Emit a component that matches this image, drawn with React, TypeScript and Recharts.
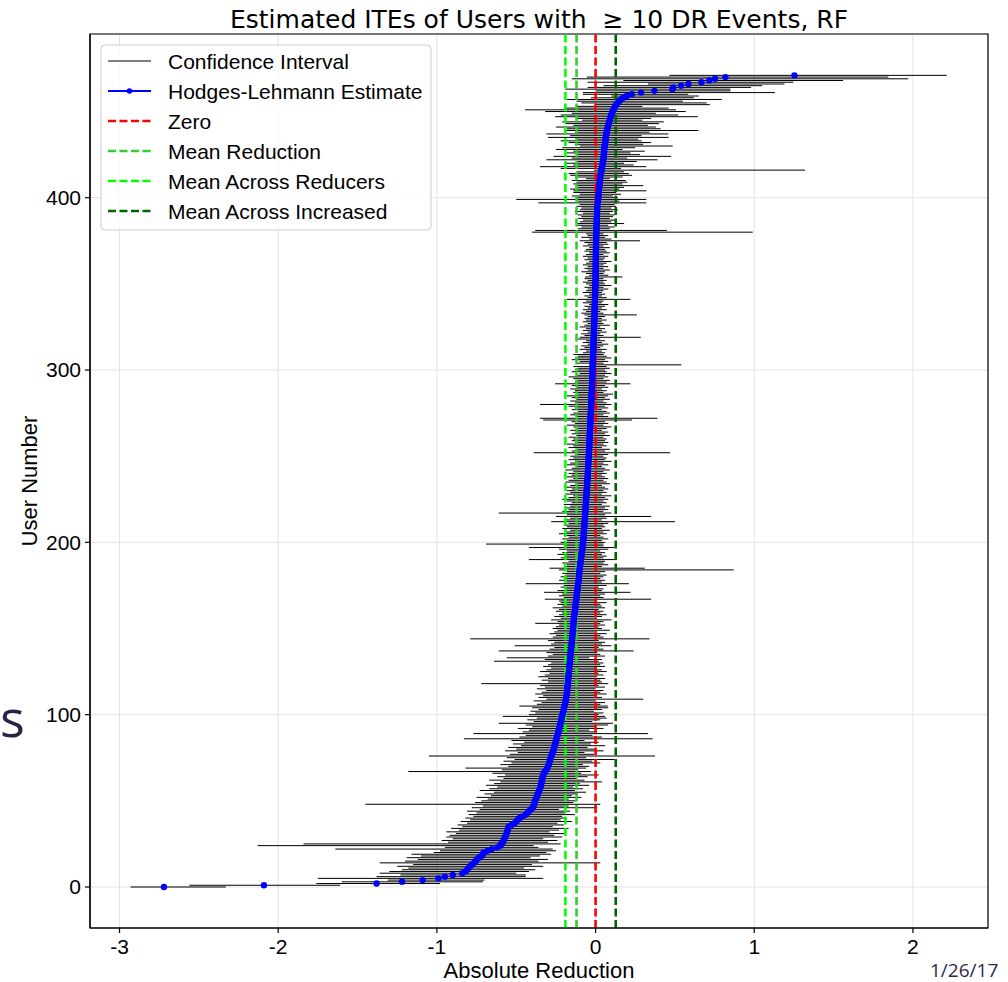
import React from 'react';
import {
  ScatterChart,
  Scatter,
  ErrorBar,
  XAxis,
  YAxis,
  CartesianGrid,
  ReferenceLine,
  ReferenceArea,
} from 'recharts';

// Hodges-Lehmann estimate per user (sorted), users 0..471
const hlEstimate = [
  -2.72, -2.09, -1.38, -1.22, -1.09, -0.99, -0.95, -0.9, -0.84, -0.82,
  -0.81, -0.8, -0.79, -0.78, -0.765, -0.755, -0.75, -0.735, -0.72, -0.71,
  -0.705, -0.68, -0.655, -0.62, -0.6, -0.595, -0.585, -0.58, -0.575, -0.57,
  -0.565, -0.56, -0.557, -0.554, -0.551, -0.548, -0.53, -0.51, -0.5, -0.49,
  -0.478, -0.46, -0.44, -0.43, -0.42, -0.41, -0.395, -0.39, -0.388, -0.385,
  -0.381, -0.377, -0.372, -0.368, -0.364, -0.36, -0.355, -0.35, -0.347, -0.345,
  -0.342, -0.34, -0.338, -0.335, -0.333, -0.33, -0.327, -0.318, -0.31, -0.305,
  -0.3, -0.295, -0.292, -0.289, -0.286, -0.283, -0.279, -0.275, -0.271, -0.267,
  -0.264, -0.261, -0.258, -0.255, -0.252, -0.249, -0.246, -0.243, -0.24, -0.237,
  -0.234, -0.232, -0.229, -0.226, -0.224, -0.221, -0.218, -0.216, -0.213, -0.211,
  -0.208, -0.206, -0.203, -0.201, -0.198, -0.196, -0.193, -0.191, -0.189, -0.187,
  -0.185, -0.183, -0.181, -0.18, -0.179, -0.178, -0.177, -0.176, -0.175, -0.174,
  -0.173, -0.172, -0.171, -0.17, -0.169, -0.168, -0.167, -0.166, -0.165, -0.164,
  -0.163, -0.162, -0.161, -0.16, -0.159, -0.158, -0.157, -0.156, -0.155, -0.154,
  -0.153, -0.151, -0.15, -0.149, -0.148, -0.147, -0.146, -0.145, -0.144, -0.143,
  -0.142, -0.141, -0.14, -0.139, -0.138, -0.137, -0.136, -0.135, -0.134, -0.132,
  -0.131, -0.129, -0.128, -0.127, -0.126, -0.124, -0.123, -0.122, -0.12, -0.119,
  -0.118, -0.117, -0.115, -0.114, -0.113, -0.111, -0.11, -0.109, -0.107, -0.106,
  -0.105, -0.104, -0.103, -0.102, -0.101, -0.099, -0.098, -0.097, -0.095, -0.094,
  -0.092, -0.091, -0.09, -0.088, -0.087, -0.085, -0.084, -0.082, -0.081, -0.08,
  -0.079, -0.078, -0.077, -0.076, -0.075, -0.075, -0.074, -0.073, -0.072, -0.071,
  -0.07, -0.07, -0.069, -0.068, -0.067, -0.067, -0.066, -0.065, -0.064, -0.064,
  -0.063, -0.062, -0.061, -0.061, -0.06, -0.059, -0.058, -0.058, -0.057, -0.056,
  -0.056, -0.055, -0.054, -0.053, -0.053, -0.052, -0.052, -0.051, -0.05, -0.05,
  -0.049, -0.048, -0.048, -0.047, -0.047, -0.046, -0.045, -0.045, -0.044, -0.044,
  -0.043, -0.042, -0.042, -0.041, -0.041, -0.04, -0.04, -0.039, -0.039, -0.038,
  -0.038, -0.037, -0.037, -0.036, -0.036, -0.035, -0.035, -0.034, -0.034, -0.033,
  -0.033, -0.032, -0.032, -0.031, -0.031, -0.03, -0.03, -0.029, -0.029, -0.028,
  -0.028, -0.027, -0.027, -0.026, -0.026, -0.025, -0.025, -0.024, -0.024, -0.023,
  -0.023, -0.022, -0.022, -0.022, -0.021, -0.021, -0.02, -0.02, -0.02, -0.019,
  -0.019, -0.018, -0.018, -0.018, -0.017, -0.017, -0.017, -0.016, -0.016, -0.015,
  -0.015, -0.015, -0.014, -0.014, -0.014, -0.013, -0.013, -0.013, -0.012, -0.012,
  -0.011, -0.011, -0.011, -0.01, -0.01, -0.01, -0.009, -0.009, -0.008, -0.008,
  -0.008, -0.007, -0.007, -0.007, -0.006, -0.006, -0.006, -0.005, -0.005, -0.005,
  -0.004, -0.004, -0.004, -0.003, -0.003, -0.003, -0.002, -0.002, -0.002, -0.001,
  -0.001, -0.001, 0, 0, 0, 0, 0, 0, 0, 0,
  0.001, 0.001, 0.001, 0.001, 0.001, 0.002, 0.002, 0.002, 0.002, 0.002,
  0.003, 0.003, 0.003, 0.003, 0.003, 0.004, 0.004, 0.004, 0.005, 0.005,
  0.005, 0.006, 0.006, 0.006, 0.007, 0.007, 0.007, 0.008, 0.008, 0.009,
  0.009, 0.009, 0.01, 0.01, 0.011, 0.012, 0.013, 0.014, 0.015, 0.016,
  0.017, 0.018, 0.019, 0.02, 0.021, 0.022, 0.023, 0.024, 0.025, 0.026,
  0.027, 0.028, 0.029, 0.031, 0.033, 0.035, 0.037, 0.039, 0.041, 0.043,
  0.045, 0.047, 0.049, 0.05, 0.051, 0.052, 0.053, 0.054, 0.055, 0.056,
  0.057, 0.059, 0.061, 0.062, 0.063, 0.065, 0.066, 0.068, 0.07, 0.072,
  0.074, 0.077, 0.08, 0.083, 0.086, 0.089, 0.092, 0.095, 0.099, 0.103,
  0.107, 0.112, 0.117, 0.123, 0.13, 0.138, 0.148, 0.16, 0.175, 0.197,
  0.228, 0.287, 0.371, 0.484, 0.49, 0.539, 0.585, 0.667, 0.717, 0.753,
  0.818, 1.253,
];

// Lower end of each user's confidence interval
const ciLow = [
  -2.93, -2.56, -1.76, -1.6, -1.31, -1.75, -1.38, -1.23, -1.36, -1.3,
  -1.22, -1.18, -1.25, -1.15, -1.36, -1.2, -1.12, -1.19, -1.1, -1.16,
  -1.02, -0.98, -1.64, -0.95, -2.13, -1.84, -0.93, -0.97, -0.9, -0.94,
  -0.92, -0.88, -0.94, -0.86, -0.91, -0.84, -0.87, -0.81, -0.85, -0.79,
  -0.82, -0.77, -0.8, -0.75, -0.81, -0.73, -0.78, -0.71, -1.45, -0.76,
  -0.72, -0.68, -0.75, -0.66, -0.7, -0.64, -0.73, -0.67, -0.62, -0.69,
  -0.64, -0.6, -0.67, -0.58, -0.62, -0.57, -0.65, -1.18, -0.59, -0.82,
  -0.55, -0.6, -0.53, -0.58, -0.51, -0.56, -1.05, -0.54, -0.49, -0.57,
  -0.5, -0.55, -0.47, -0.52, -0.45, -0.53, -0.83, -0.48, -0.44, -0.77,
  -0.46, -0.42, -0.49, -0.4, -0.44, -0.61, -0.39, -0.43, -0.37, -0.585,
  -0.42, -0.38, -0.41, -0.36, -0.4, -0.48, -0.37, -0.34, -0.39, -0.31,
  -0.36, -0.33, -0.38, -0.34, -0.31, -0.37, -0.32, -0.35, -0.72, -0.3,
  -0.34, -0.3, -0.36, -0.32, -0.29, -0.35, -0.31, -0.28, -0.33, -0.3,
  -0.28, -0.64, -0.32, -0.56, -0.3, -0.27, -0.31, -0.61, -0.29, -0.26,
  -0.51, -0.28, -0.26, -0.3, -0.79, -0.27, -0.25, -0.29, -0.26, -0.24,
  -0.27, -0.25, -0.23, -0.38, -0.24, -0.28, -0.22, -0.26, -0.23, -0.21,
  -0.25, -0.23, -0.27, -0.21, -0.24, -0.22, -0.23, -0.32, -0.2, -0.23,
  -0.21, -0.325, -0.24, -0.19, -0.22, -0.2, -0.44, -0.18, -0.23, -0.2,
  -0.22, -0.19, -0.21, -0.18, -0.23, -0.29, -0.2, -0.18, -0.21, -0.17,
  -0.42, -0.22, -0.19, -0.24, -0.21, -0.18, -0.23, -0.42, -0.2, -0.69,
  -0.22, -0.18, -0.21, -0.17, -0.2, -0.23, -0.19, -0.16, -0.21, -0.18,
  -0.2, -0.17, -0.28, -0.19, -0.16, -0.25, -0.18, -0.61, -0.21, -0.17,
  -0.19, -0.16, -0.2, -0.15, -0.18, -0.21, -0.17, -0.14, -0.19, -0.16,
  -0.18, -0.15, -0.2, -0.16, -0.13, -0.19, -0.17, -0.14, -0.18, -0.15,
  -0.17, -0.14, -0.19, -0.15, -0.12, -0.18, -0.16, -0.13, -0.17, -0.14,
  -0.16, -0.13, -0.39, -0.15, -0.12, -0.17, -0.14, -0.18, -0.13, -0.15,
  -0.14, -0.17, -0.12, -0.15, -0.13, -0.16, -0.11, -0.14, -0.18, -0.13,
  -0.15, -0.33, -0.35, -0.12, -0.16, -0.14, -0.11, -0.15, -0.13, -0.17,
  -0.35, -0.13, -0.16, -0.12, -0.15, -0.18, -0.11, -0.14, -0.13, -0.16,
  -0.12, -0.15, -0.255, -0.13, -0.11, -0.14, -0.17, -0.12, -0.1, -0.15,
  -0.13, -0.11, -0.14, -0.04, -0.12, -0.1, -0.15, -0.13, -0.11, -0.14,
  -0.08, -0.06, -0.1, -0.07, -0.09, -0.05, -0.08, -0.06, -0.11, -0.1,
  -0.07, -0.09, -0.05, -0.08, -0.06, -0.1, -0.07, -0.05, -0.08, -0.06,
  -0.07, -0.05, -0.07, -0.09, -0.06, -0.08, -0.05, -0.07, -0.04, -0.08,
  -0.06, -0.18, -0.05, -0.07, -0.04, -0.08, -0.06, -0.05, -0.07, -0.04,
  -0.06, -0.08, -0.05, -0.07, -0.066, -0.04, -0.06, -0.09, -0.05, -0.07,
  -0.05, -0.08, -0.06, -0.04, -0.07, -0.05, -0.08, -0.06, -0.04, -0.07,
  -0.06, -0.04, -0.08, -0.05, -0.07, -0.1, -0.04, -0.09, -0.05, -0.06,
  -0.4, -0.38, -0.11, -0.09, -0.12, -0.12, -0.1, -0.08, -0.11, -0.09,
  -0.11, -0.08, -0.13, -0.1, -0.09, -0.12, -0.1, -0.36, -0.11, -0.5,
  -0.12, -0.15, -0.1, -0.14, -0.14, -0.16, -0.11, -0.12, -0.14, -0.12,
  -0.15, -0.06, -0.13, -0.16, -0.17, -0.12, -0.01, -0.22, -0.35, -0.14,
  -0.19, -0.12, -0.31, -0.15, -0.265, -0.11, -0.18, -0.14, -0.25, -0.21,
  -0.1, -0.13, -0.17, -0.22, -0.12, -0.3, -0.16, -0.31, -0.13, -0.2,
  -0.18, -0.25, -0.14, -0.19, -0.21, -0.085, -0.12, -0.255, -0.22, -0.15,
  -0.318, -0.444, -0.2, -0.12, 0.0, -0.09, -0.12, -0.18, -0.03, 0.1,
  -0.08, -0.08, 0.0, -0.19, -0.05, 0.05, 0.33, -0.05, 0.175, -0.15,
  -0.055, 0.465,
];

// Upper end of each user's confidence interval
const ciHigh = [
  -2.33, -1.61, -0.98, -0.71, -0.7, -0.33, -0.44, -0.44, -0.5, -0.42,
  -0.38, -0.45, -0.33, -0.4, 0.03, -0.36, -0.3, -0.41, -0.35, -0.28,
  -0.31, -0.25, -0.27, -0.36, -0.39, -0.22, -0.3, -0.24, -0.33, -0.21,
  -0.26, -0.19, -0.29, -0.23, -0.17, -0.27, -0.2, -0.24, -0.15, -0.22,
  -0.18, -0.21, -0.13, -0.19, -0.16, -0.23, 0.01, -0.17, 0.03, -0.14,
  -0.12, -0.17, -0.09, -0.15, -0.11, -0.06, -0.13, -0.08, -0.14, -0.04,
  -0.1, 0.04, -0.07, -0.12, -0.05, 0.02, -0.09, -0.03, -0.11, -0.06,
  -0.04, -0.08, 0.03, -0.02, 0.12, -0.06, 0.375, -0.01, -0.07, 0.05,
  0.0, -0.05, 0.06, -0.03, 0.02, -0.07, 0.36, 0.04, -0.02, 0.33,
  0.01, -0.04, 0.05, 0.0, 0.08, 0.11, -0.02, 0.03, 0.07, 0.06,
  0.02, 0.05, -0.01, 0.04, 0.08, 0.077, 0.03, 0.06, 0.0, 0.3,
  0.04, 0.01, 0.07, 0.03, 0.05, 0.0, 0.06, 0.02, 0.08, 0.04,
  0.03, 0.06, 0.01, 0.05, 0.02, 0.07, 0.04, 0.0, 0.06, 0.03,
  0.05, 0.02, 0.04, -0.04, 0.06, 0.03, 0.01, 0.24, 0.05, 0.02,
  0.1, 0.04, 0.06, 0.02, 0.34, 0.05, 0.03, 0.07, 0.01, 0.09,
  0.04, 0.02, 0.06, 0.03, 0.05, 0.1, 0.01, 0.04, 0.07, 0.03,
  0.05, 0.02, 0.06, 0.04, 0.03, 0.07, 0.01, 0.35, 0.05, 0.03,
  0.06, 0.22, 0.04, 0.05, 0.02, 0.07, 0.21, 0.04, 0.06, 0.03,
  0.05, 0.07, 0.03, 0.06, 0.87, 0.31, 0.04, 0.08, 0.05, 0.06,
  0.13, 0.05, 0.07, 0.04, 0.06, 0.03, 0.08, 0.12, 0.05, 0.05,
  0.06, 0.04, 0.08, 0.05, 0.03, 0.07, 0.05, 0.09, 0.04, 0.06,
  0.05, 0.08, 0.5, 0.04, 0.07, 0.35, 0.06, 0.1, 0.05, 0.08,
  0.06, 0.09, 0.04, 0.07, 0.05, 0.08, 0.06, 0.1, 0.04, 0.07,
  0.05, 0.08, 0.06, 0.04, 0.09, 0.07, 0.05, 0.08, 0.06, 0.04,
  0.07, 0.05, 0.09, 0.06, 0.04, 0.08, 0.05, 0.1, 0.06, 0.07,
  0.05, 0.08, 0.47, 0.06, 0.09, 0.04, 0.07, 0.05, 0.08, 0.06,
  0.07, 0.05, 0.09, 0.06, 0.08, 0.04, 0.07, 0.1, 0.05, 0.08,
  0.06, 0.23, 0.39, 0.08, 0.05, 0.09, 0.07, 0.04, 0.08, 0.06,
  0.1, 0.07, 0.05, 0.09, 0.06, 0.08, 0.11, 0.05, 0.07, 0.04,
  0.08, 0.06, 0.22, 0.07, 0.09, 0.05, 0.08, 0.06, 0.1, 0.07,
  0.06, 0.09, 0.07, 0.54, 0.05, 0.08, 0.06, 0.1, 0.07, 0.05,
  0.06, 0.04, 0.07, 0.03, 0.05, 0.08, 0.04, 0.06, 0.03, 0.285,
  0.05, 0.03, 0.07, 0.04, 0.06, 0.03, 0.09, 0.05, 0.04, 0.07,
  0.04, 0.06, 0.26, 0.05, 0.03, 0.07, 0.04, 0.06, 0.08, 0.04,
  0.05, 0.22, 0.07, 0.04, 0.06, 0.04, 0.05, 0.08, 0.05, 0.1,
  0.06, 0.05, 0.07, 0.05, 0.17, 0.08, 0.05, 0.06, 0.09, 0.05,
  0.08, 0.05, 0.07, 0.1, 0.05, 0.06, 0.08, 0.05, 0.09, 0.07,
  0.06, 0.09, 0.05, 0.08, 0.07, 0.28, 0.1, 0.06, 0.08, 0.05,
  0.99, 0.45, 0.09, 0.12, 0.08, 0.18, 0.1, 0.13, 0.09, 0.11,
  0.12, 0.09, 0.11, 0.14, 0.1, 0.13, 0.12, 0.32, 0.15, 0.32,
  0.14, 0.11, 0.16, 0.13, 0.32, 0.15, 0.18, 0.3, 0.17, 0.2,
  0.19, 0.09, 0.17, 0.23, 0.21, 0.18, 1.32, 0.16, 0.32, 0.24,
  0.18, 0.26, 0.39, 0.2, 0.476, 0.28, 0.22, 0.31, 0.17, 0.25,
  0.486, 0.3, 0.35, 0.29, 0.27, 0.46, 0.29, 0.459, 0.34, 0.648,
  0.41, 0.38, 0.33, 0.4, 0.43, 0.295, 0.35, 0.644, 0.52, 0.38,
  0.568, 0.507, 0.46, 0.295, 0.72, 0.7, 0.55, 0.795, 0.62, 0.65,
  0.585, 1.13, 0.85, 0.85, 0.98, 1.05, 1.19, 1.246, 1.56, 1.97,
  1.845, 2.213,
];

const xTicks = [-3, -2, -1, 0, 1, 2];
const yTicks = [0, 100, 200, 300, 400];
const xDomain: [number, number] = [-3.186, 2.473];
const yDomain: [number, number] = [-23.8, 495];

const zeroValue = 0;
const meanReduction = -0.12;
const meanAcrossReducers = -0.19;
const meanAcrossIncreased = 0.127;

const legendLabels = [
  'Confidence Interval',
  'Hodges-Lehmann Estimate',
  'Zero',
  'Mean Reduction',
  'Mean Across Reducers',
  'Mean Across Increased',
];
const legendColors = ['#7f7f7f', '#0000ff', '#ff0000', '#32cd32', '#00ff00', '#006400'];

const rows = hlEstimate.map((hl, i) => ({
  user: i,
  hl,
  ci: [hl - ciLow[i], ciHigh[i] - hl],
}));

const SANS = '"Liberation Sans", Arial, Helvetica, sans-serif';
const DASH = '8 3.5';
const DASH_W = 2.6;

const BlueDot = (props: any) => {
  const { cx, cy } = props;
  if (cx == null || cy == null) return null;
  return <circle cx={cx} cy={cy} r={3.2} fill="#0000ff" />;
};

export default function App() {
  return (
    <div style={{ position: 'relative', width: 1008, height: 982, background: '#fff', overflow: 'hidden' }}>
      <style>{'body{margin:0;background:#fff;}'}</style>
      <ScatterChart
        width={1008}
        height={982}
        margin={{ top: 34, right: 20, bottom: 14, left: 30 }}
      >
        <CartesianGrid stroke="#e3e3e3" strokeWidth={1} />
        <XAxis
          type="number"
          dataKey="hl"
          domain={xDomain}
          allowDataOverflow
          ticks={xTicks}
          height={40}
          tickSize={5}
          tickMargin={6}
          tick={{ fill: '#000', fontSize: 21, fontFamily: SANS }}
          tickLine={{ stroke: '#000', strokeWidth: 1.2 }}
          axisLine={{ stroke: '#000', strokeWidth: 1.2 }}
          tickFormatter={(v: number) => String(v)}
        />
        <YAxis
          type="number"
          dataKey="user"
          domain={yDomain}
          allowDataOverflow
          ticks={yTicks}
          width={60}
          tickSize={5}
          tickMargin={4}
          tick={{ fill: '#000', fontSize: 21, fontFamily: SANS }}
          tickLine={{ stroke: '#000', strokeWidth: 1.2 }}
          axisLine={{ stroke: '#000', strokeWidth: 1.2 }}
        />
        <Scatter data={rows} shape={BlueDot} isAnimationActive={false}>
          <ErrorBar
            dataKey="ci"
            direction="x"
            width={0}
            stroke="#000"
            strokeWidth={1}
            isAnimationActive={false}
          />
        </Scatter>
        <ReferenceLine x={zeroValue} stroke="#ff0000" strokeWidth={DASH_W} strokeDasharray={DASH} />
        <ReferenceLine x={meanReduction} stroke="#32cd32" strokeWidth={DASH_W} strokeDasharray={DASH} />
        <ReferenceLine x={meanAcrossReducers} stroke="#00ff00" strokeWidth={DASH_W} strokeDasharray={DASH} />
        <ReferenceLine x={meanAcrossIncreased} stroke="#006400" strokeWidth={DASH_W} strokeDasharray={DASH} />
        <ReferenceArea
          x1={xDomain[0]}
          x2={xDomain[1]}
          y1={yDomain[0]}
          y2={yDomain[1]}
          fill="none"
          fillOpacity={0}
          stroke="#000"
          strokeWidth={1.2}
          ifOverflow="visible"
        />
      </ScatterChart>

      <svg
        width={1008}
        height={982}
        style={{ position: 'absolute', left: 0, top: 0, pointerEvents: 'none' }}
      >
        <text
          x={539}
          y={28}
          textAnchor="middle"
          fontFamily='"DejaVu Sans", sans-serif'
          fontSize={25}
          fill="#000"
          style={{ whiteSpace: 'pre' }}
        >
          {'Estimated ITEs of Users with  \u2265 10 DR Events, RF'}
        </text>
        <text x={539} y={978} textAnchor="middle" fontFamily={SANS} fontSize={22} fill="#000">
          Absolute Reduction
        </text>
        <text
          x={37}
          y={481}
          textAnchor="middle"
          fontFamily={SANS}
          fontSize={22}
          fill="#000"
          transform="rotate(-90 37 481)"
        >
          User Number
        </text>
        <text x={0} y={737} fontFamily='"Open Sans", sans-serif' fontSize={52} fill="#262646">
          s
        </text>
        <text x={930} y={977} fontFamily='"Open Sans", sans-serif' fontSize={19} fill="#2b2b4b">
          1/26/17
        </text>

        <g>
          <rect
            x={101}
            y={45}
            width={330}
            height={185}
            rx={4}
            fill="#ffffff"
            fillOpacity={0.8}
            stroke="#cccccc"
            strokeWidth={1}
          />
          {legendLabels.map((label, i) => {
            const cy = 61 + i * 30;
            const color = legendColors[i];
            return (
              <g key={label}>
                {i === 0 && <line x1={108} x2={151} y1={cy} y2={cy} stroke={color} strokeWidth={1.8} />}
                {i === 1 && (
                  <g>
                    <line x1={108} x2={151} y1={cy} y2={cy} stroke={color} strokeWidth={2.2} />
                    <circle cx={129.5} cy={cy} r={2.8} fill={color} />
                  </g>
                )}
                {i >= 2 && (
                  <line
                    x1={108}
                    x2={151}
                    y1={cy}
                    y2={cy}
                    stroke={color}
                    strokeWidth={DASH_W}
                    strokeDasharray={DASH}
                  />
                )}
                <text x={168} y={cy + 7.5} fontFamily={SANS} fontSize={21} fill="#000">
                  {label}
                </text>
              </g>
            );
          })}
        </g>
      </svg>
    </div>
  );
}
